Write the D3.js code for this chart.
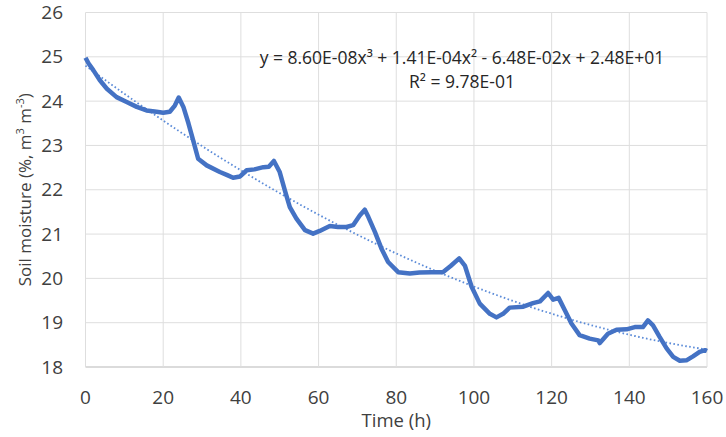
<!DOCTYPE html>
<html>
<head>
<meta charset="utf-8">
<script src="https://cdn.jsdelivr.net/npm/d3@7"></script>
<style>
    body { margin: 0; background: #fff; }
    text { font-family: "Open Sans", sans-serif; fill: #404040; }
</style>
</head>
<body>
<div id="chart"></div>
<script>
const timeH = [0, 0.8, 2, 3.7, 5.5, 8, 10.6, 13.2, 15.7, 18.3, 20, 21.7, 23, 24, 25.2, 26.5, 27.7, 29,
    31.2, 34.6, 36.5, 38, 39.8, 41.5, 43.5, 45.8, 47.2, 48.5, 50, 51.3, 52.6, 54.3, 56.5, 58.6, 60.3,
    62.9, 65, 67.2, 68.9, 70.6, 71.9, 72.8, 74.5, 76.2, 77.9, 80.5, 83.5, 86, 89, 92, 94, 96.2, 97.7,
    99.4, 101.5, 104.1, 105.8, 107.5, 109.2, 112.7, 115.2, 117, 119.1, 120.4, 121.8, 123.4, 125.1,
    127.2, 129.8, 132, 132.4, 134.5, 136.7, 139.3, 141.4, 143.5, 144.8, 146.1, 147.8, 149.6, 151.3,
    153, 154.7, 156.4, 158.1, 159.5, 160];
const moisture = [24.98, 24.85, 24.70, 24.47, 24.28, 24.09, 23.98, 23.87, 23.79, 23.76, 23.74, 23.76,
    23.9, 24.08, 23.87, 23.5, 23.12, 22.7, 22.55, 22.40, 22.33, 22.27, 22.30, 22.44, 22.46, 22.51,
    22.52, 22.65, 22.40, 21.99, 21.61, 21.35, 21.09, 21.01, 21.07, 21.18, 21.16, 21.16, 21.2, 21.42,
    21.55, 21.39, 21.05, 20.67, 20.37, 20.14, 20.11, 20.13, 20.14, 20.14, 20.28, 20.45, 20.28, 19.81,
    19.43, 19.2, 19.12, 19.2, 19.34, 19.36, 19.44, 19.48, 19.67, 19.52, 19.56, 19.28, 18.98, 18.72,
    18.64, 18.6, 18.54, 18.75, 18.84, 18.85, 18.9, 18.9, 19.05, 18.94, 18.68, 18.42, 18.23, 18.14,
    18.15, 18.24, 18.34, 18.38, 18.36];

// trendline coefficients as printed on the chart (x^3, x^2, x, const)
const trendCoef = [8.60e-08, 1.41e-04, -6.48e-02, 2.48e+01];
const trendText = ['y = 8.60E-08x³ + 1.41E-04x² - 6.48E-02x + 2.48E+01', 'R² = 9.78E-01'];

const xTicks = [0, 20, 40, 60, 80, 100, 120, 140, 160];
const yTicks = [18, 19, 20, 21, 22, 23, 24, 25, 26];

const width = 726, height = 437;
const margin = { top: 12.5, right: 19, bottom: 70, left: 85.5 };

const svg = d3.select('#chart').append('svg')
    .attr('width', width)
    .attr('height', height);

const x = d3.scaleLinear().domain([0, 160]).range([margin.left, width - margin.right]);
const y = d3.scaleLinear().domain([18, 26]).range([height - margin.bottom, margin.top]);

// gridlines
svg.append('g').selectAll('line.h')
    .data(yTicks).enter().append('line')
    .attr('x1', x(0)).attr('x2', x(160))
    .attr('y1', d => y(d)).attr('y2', d => y(d))
    .attr('stroke', d => d === 18 ? '#cfcfcf' : '#dedede')
    .attr('stroke-width', d => d === 18 ? 1.5 : 1);
svg.append('g').selectAll('line.v')
    .data(xTicks).enter().append('line')
    .attr('y1', y(18)).attr('y2', y(26))
    .attr('x1', d => x(d)).attr('x2', d => x(d))
    .attr('stroke', '#dedede')
    .attr('stroke-width', 1);

// tick labels
svg.append('g').selectAll('text')
    .data(yTicks).enter().append('text')
    .attr('x', 63).attr('y', d => y(d))
    .attr('dy', '0.35em')
    .attr('text-anchor', 'end')
    .style('font-size', '19px')
    .text(d => d);
svg.append('g').selectAll('text')
    .data(xTicks).enter().append('text')
    .attr('x', d => x(d)).attr('y', 397)
    .attr('dy', '0.35em')
    .attr('text-anchor', 'middle')
    .style('font-size', '19px')
    .text(d => d);

// axis titles
svg.append('text')
    .attr('x', (x(0) + x(160)) / 2).attr('y', 421)
    .attr('dy', '0.35em')
    .attr('text-anchor', 'middle')
    .style('font-size', '18.5px')
    .text('Time (h)');

const yTitle = svg.append('text')
    .attr('transform', `translate(25, ${(y(18) + y(26)) / 2}) rotate(-90)`)
    .attr('dy', '0.35em')
    .attr('text-anchor', 'middle')
    .style('font-size', '17px');
yTitle.append('tspan').text('Soil moisture (%, m');
yTitle.append('tspan').attr('baseline-shift', 'super').style('font-size', '11px').text('3');
yTitle.append('tspan').text(' m');
yTitle.append('tspan').attr('baseline-shift', 'super').style('font-size', '11px').text('-3');
yTitle.append('tspan').text(')');

// trendline, evaluated from the printed coefficients at the measured times
const poly = t => trendCoef[0] * t * t * t + trendCoef[1] * t * t + trendCoef[2] * t + trendCoef[3];
svg.append('path')
    .datum(timeH)
    .attr('fill', 'none')
    .attr('stroke', '#5b8bd8')
    .attr('stroke-width', 1.8)
    .attr('stroke-dasharray', '1.6,2.4')
    .attr('d', d3.line().x(d => x(d)).y(d => y(poly(d))).curve(d3.curveMonotoneX));

// measured series
const series = timeH.map((t, i) => ({ t: t, v: moisture[i] }));
svg.append('path')
    .datum(series)
    .attr('fill', 'none')
    .attr('stroke', '#4472c4')
    .attr('stroke-width', 4.5)
    .attr('stroke-linejoin', 'round')
    .attr('d', d3.line().x(d => x(d.t)).y(d => y(d.v)));

// trendline label
svg.append('g').selectAll('text')
    .data(trendText).enter().append('text')
    .attr('x', 462).attr('y', (d, i) => 58 + i * 24)
    .attr('dy', '0.35em')
    .attr('text-anchor', 'middle')
    .style('font-size', '17.5px')
    .style('fill', '#262626')
    .text(d => d);
</script>
</body>
</html>
